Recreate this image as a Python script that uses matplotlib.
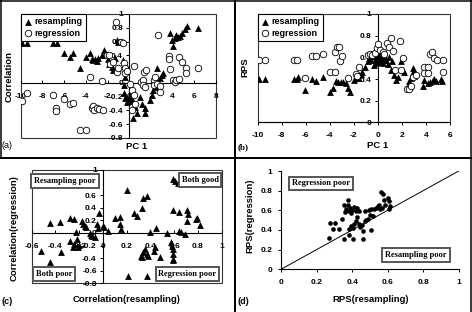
import matplotlib
matplotlib.use("Agg")
import matplotlib.pyplot as plt
from matplotlib.patches import Rectangle
from matplotlib.lines import Line2D
from matplotlib.ticker import FuncFormatter, MultipleLocator

plt.rcParams['font.family'] = ['Liberation Sans', 'DejaVu Sans']
plt.rcParams['font.weight'] = 'bold'

# ---- panel (a): correlation vs PC 1
res_a_pc = [-9.9, -9.45, -7.05, -6.7, -6.05, -5.5, -5.2, -4.55, -3.95, -3.65, -3.45, -3.3,
            -3.15, -3.0, -2.85, -2.55, -2.35, -2.0, -1.85, -1.6, -1.5, -1.3, -1.15, -1.0,
            -0.55, -0.4, -0.4, -0.5, -0.45, -0.39, -0.3, -0.2, -0.08, 0.07, 0.15, 0.38,
            0.53, 0.69, 0.38, 1.0, 1.15, 1.46, 1.46, 1.92, 2.07, 2.22, 2.38, 2.53, 2.68,
            2.84, 2.99, 2.6, 3.1, 3.75, 3.9, 4.05, 4.2, 4.35, 4.5, 4.7, 4.85, 5.15, 5.3, 6.3]
res_a_corr = [0.58, 0.58, 0.58, 0.58, 0.44, 0.37, 0.43, 0.21, 0.37, 0.44, 0.35, 0.33,
              0.34, 0.32, 0.36, 0.40, 0.48, 0.34, 0.28, 0.23, 0.19, 0.36, 0.62, 0.60,
              0.33, 0.28, 0.09, -0.03, -0.15, -0.22, -0.2, -0.28, -0.25, -0.27, -0.22, -0.27,
              -0.35, -0.44, -0.51, -0.2, -0.30, -0.37, -0.44, -0.25, -0.18, -0.10, -0.06, -0.03,
              0.02, 0.07, 0.11, 0.21, 0.14, 0.72, 0.62, 0.53, 0.65, 0.70, 0.66, 0.68, 0.72,
              0.78, 0.82, 0.79]
reg_a_pc = [-9.9, -9.45, -7.05, -6.75, -6.75, -6.05, -5.5, -5.2, -4.55, -4.0, -3.65, -3.45,
            -3.3, -3.2, -3.0, -2.8, -2.4, -2.55, -2.05, -1.85, -1.75, -1.45, -1.25, -1.15,
            -1.0, -0.8, -0.6, -0.5, -0.4, -0.35, -0.2, 0.45, 0.25, 0.4, 0.25, 0.3, 0.55,
            0.07, 1.05, 1.25, 1.35, 1.55, 1.25, 1.45, 2.25, 2.3, 2.55, 2.8, 2.7, 2.4, 2.8,
            3.7, 3.7, 3.75, 4.0, 4.2, 4.35, 4.55, 4.6, 4.85, 5.25, 5.25, 6.3]
reg_a_corr = [-0.27, -0.15, -0.18, -0.37, -0.41, -0.24, -0.30, -0.29, -0.69, -0.68, 0.08, -0.36,
              -0.34, -0.39, -0.37, -0.38, -0.39, 0.03, 0.40, 0.40, 0.28, 0.31, 0.88, 0.16,
              0.21, 0.60, 0.58, 0.29, 0.21, 0.14, 0.17, 0.24, -0.10, -0.18, -0.35, -0.40, -0.30,
              -0.01, 0.02, 0.04, 0.16, 0.19, -0.03, -0.06, 0.04, -0.03, -0.01, -0.05, 0.69, 0.09,
              -0.13, 0.39, 0.34, 0.20, 0.04, 0.02, 0.04, 0.05, 0.38, 0.31, 0.21, 0.14, 0.22]

# ---- panel (b): RPS vs PC 1
res_b_pc = [-9.9, -9.4, -7.0, -6.75, -6.65, -6.05, -5.5, -5.15, -4.55, -3.95, -3.7, -3.5,
            -3.3, -3.1, -2.9, -2.65, -2.5, -2.35, -1.95, -1.8, -1.65, -1.55, -1.4, -1.3,
            -1.1, -0.85, -0.7, -0.55, -0.4, -0.3, -0.25, -0.15, -0.1, 0.0, 0.1, 0.15, 0.2,
            0.3, 0.4, 0.45, 0.55, 0.6, 0.7, 0.8, 0.95, 1.2, 1.05, 1.3, 1.5, 1.7, 1.9, 2.1,
            2.2, 2.5, 2.6, 2.75, 2.9, 2.95, 3.0, 3.1, 3.75, 3.85, 4.15, 4.35, 4.55, 4.7,
            4.85, 5.25, 5.3]
res_b_rps = [0.40, 0.40, 0.40, 0.40, 0.42, 0.30, 0.40, 0.38, 0.42, 0.28, 0.32, 0.38,
             0.375, 0.375, 0.37, 0.36, 0.32, 0.28, 0.39, 0.41, 0.41, 0.44, 0.45, 0.47,
             0.51, 0.57, 0.59, 0.58, 0.61, 0.53, 0.58, 0.55, 0.60, 0.59, 0.62, 0.57, 0.60,
             0.56, 0.59, 0.55, 0.58, 0.60, 0.58, 0.54, 0.60, 0.57, 0.48, 0.44, 0.39, 0.42,
             0.57, 0.48, 0.47, 0.34, 0.38, 0.41, 0.50, 0.47, 0.43, 0.46, 0.34, 0.39, 0.36,
             0.375, 0.39, 0.40, 0.385, 0.40, 0.38]
reg_b_pc = [-9.9, -9.4, -7.0, -6.7, -6.05, -5.5, -5.15, -4.55, -3.95, -3.6, -3.6, -3.4,
            -3.2, -3.15, -2.95, -2.5, -1.85, -1.7, -1.55, -0.85, -0.65, -0.45, -0.2, -0.1,
            0.0, 0.2, 0.4, 0.55, 0.75, 0.9, 1.1, 1.25, 1.85, 1.45, 1.9, 2.05, 2.4, 2.6,
            2.75, 2.9, 3.15, 3.8, 4.15, 3.8, 4.15, 4.3, 4.5, 4.65, 4.95, 5.4, 5.4]
reg_b_rps = [0.58, 0.58, 0.58, 0.58, 0.41, 0.61, 0.61, 0.63, 0.47, 0.47, 0.65, 0.70,
             0.70, 0.57, 0.61, 0.41, 0.45, 0.43, 0.51, 0.62, 0.63, 0.62, 0.64, 0.69,
             0.72, 0.67, 0.65, 0.63, 0.73, 0.70, 0.78, 0.66, 0.75, 0.48, 0.48, 0.59, 0.31, 0.31,
             0.34, 0.42, 0.44, 0.51, 0.51, 0.46, 0.46, 0.63, 0.65, 0.59, 0.58, 0.58, 0.47]

# ---- panel (c): correlation(regression) vs correlation(resampling)
corr_res = [-0.52, -0.45, -0.45, -0.36, -0.35, -0.28, -0.24, -0.28, -0.24, -0.23, -0.22,
            -0.21, -0.20, -0.25, -0.18, -0.17, -0.15, -0.14, -0.11, -0.10, -0.09, -0.07,
            -0.05, -0.04, -0.03, 0.0, 0.01, 0.04, 0.10, 0.14, 0.14, 0.15, 0.20, 0.21, 0.26,
            0.29, 0.33, 0.34, 0.37, 0.32, 0.33, 0.34, 0.35, 0.37, 0.38, 0.37, 0.40, 0.43,
            0.44, 0.45, 0.48, 0.54, 0.57, 0.58, 0.59, 0.59, 0.59, 0.59, 0.59, 0.59, 0.61,
            0.63, 0.64, 0.64, 0.66, 0.69, 0.71, 0.71, 0.72, 0.78, 0.79, 0.82]
corr_reg = [-0.28, -0.46, 0.16, 0.17, -0.31, 0.23, 0.22, -0.13, -0.18, 0.02, -0.10,
            -0.23, -0.19, -0.22, 0.19, 0.15, 0.11, 0.10, 0.0, -0.04, -0.05, -0.07,
            0.14, 0.08, 0.31, 0.11, 0.10, 0.03, 0.24, 0.25, 0.14, 0.07, 0.68, -0.69, 0.31,
            0.27, 0.39, 0.55, 0.58, -0.37, -0.39, -0.31, -0.26, -0.34, -0.37, -0.68, 0.02, -0.29,
            -0.23, 0.08, -0.39, 0.0, -0.14, -0.20, -0.25, -0.34, -0.41, -0.43, 0.37, 0.86, 0.83,
            0.79, 0.33, 0.03, 0.01, -0.02, 0.19, 0.36, 0.30, 0.22, 0.23, 0.12]
# the 0.8 label of (c) sits under the "Resampling poor" box in the original
c_yticks = [-0.8, -0.6, -0.4, -0.2, 0, 0.2, 0.4, 0.6, 1]

# ---- panel (d): RPS(regression) vs RPS(resampling)
rps_res = [0.272, 0.278, 0.306, 0.295, 0.328, 0.343, 0.356, 0.356, 0.366, 0.375, 0.375,
           0.385, 0.39, 0.40, 0.41, 0.42, 0.43, 0.385, 0.394, 0.403, 0.38, 0.403, 0.41,
           0.42, 0.426, 0.437, 0.445, 0.456, 0.46, 0.463, 0.47, 0.478, 0.488, 0.475, 0.493,
           0.506, 0.506, 0.516, 0.525, 0.535, 0.544, 0.553, 0.557, 0.568, 0.563, 0.572,
           0.582, 0.587, 0.60, 0.606, 0.61, 0.614, 0.36, 0.395, 0.44, 0.50]
rps_reg = [0.322, 0.475, 0.475, 0.414, 0.414, 0.508, 0.305, 0.651, 0.61, 0.705, 0.651,
           0.59, 0.62, 0.60, 0.63, 0.59, 0.62, 0.41, 0.44, 0.42, 0.35, 0.305, 0.46,
           0.49, 0.53, 0.46, 0.43, 0.45, 0.39, 0.305, 0.49, 0.50, 0.51, 0.59, 0.60,
           0.61, 0.40, 0.54, 0.617, 0.627, 0.64, 0.65, 0.61, 0.627, 0.786, 0.763,
           0.71, 0.65, 0.73, 0.69, 0.61, 0.644, 0.58, 0.57, 0.59, 0.55]

W, H = 472, 312


def fx(px):
    return px / W


def fy(py):
    return 1 - py / H


def num(v, pos):
    v = round(v, 2) + 0.0
    return '%g' % v


def tri(ax, x, y, label=None):
    ax.scatter(x, y, marker='^', s=24, c='black', linewidths=0, label=label, zorder=3)


def circ(ax, x, y, label=None):
    ax.scatter(x, y, marker='o', s=22, facecolors='white', edgecolors='black',
               linewidths=0.6, label=label, zorder=3)


def centered(ax, xlim, ylim, xstep, ystep, box=True, xdir='in'):
    ax.set_xlim(*xlim)
    ax.set_ylim(*ylim)
    ax.spines['left'].set_position(('data', 0))
    ax.spines['bottom'].set_position(('data', 0))
    for s in ['top', 'right']:
        ax.spines[s].set_visible(False)
    for s in ['left', 'bottom']:
        ax.spines[s].set_linewidth(0.8)
    ax.xaxis.set_major_locator(MultipleLocator(xstep))
    ax.yaxis.set_major_locator(MultipleLocator(ystep))
    ax.xaxis.set_major_formatter(FuncFormatter(num))
    ax.yaxis.set_major_formatter(FuncFormatter(num))
    ax.tick_params(labelsize=6, length=2, width=0.7)
    ax.tick_params(axis='x', direction=xdir, pad=7 if xdir == 'in' else 5)
    ax.tick_params(axis='y', direction='out', pad=2.5)
    if box:
        ax.add_patch(Rectangle((0, 0), 1, 1, transform=ax.transAxes, fill=False,
                               lw=0.8, ec='#333333', clip_on=False, zorder=1))


def legend(ax):
    leg = ax.legend(loc='upper left', bbox_to_anchor=(0, 1), borderaxespad=0,
                    fontsize=6.5, frameon=True, fancybox=False, edgecolor='black',
                    framealpha=1, handletextpad=0.2, labelspacing=0.3,
                    borderpad=0.35, handlelength=1.0)
    leg.get_frame().set_linewidth(0.8)


def note(ax, x, y, txt):
    ax.text(x, y, txt, transform=ax.transAxes, ha='center', va='center',
            fontsize=6, family=['Liberation Serif', 'DejaVu Serif'], weight='bold',
            bbox=dict(boxstyle='square,pad=0.35', fc='white', ec='#555555', lw=1.4),
            zorder=5)


fig = plt.figure(figsize=(W / 100, H / 100), dpi=100)

# (a)
ax = fig.add_axes([fx(20.7), fy(138), fx(216 - 20.7), 124 / H])
centered(ax, (-10, 8), (-0.8, 1), 2, 0.2)
tri(ax, res_a_pc, res_a_corr, 'resampling')
circ(ax, reg_a_pc, reg_a_corr, 'regression')
legend(ax)
fig.text(fx(137), fy(146.7), 'PC 1', ha='center', va='center', fontsize=6.8)
fig.text(fx(9), fy(77), 'Correlation', ha='center', va='center', rotation=90, fontsize=6.8)
fig.text(fx(2), fy(146), '(a)', ha='left', va='center', fontsize=6.5, weight='normal')

# (b)
ax = fig.add_axes([fx(257.7), fy(122.5), fx(450 - 257.7), 108.5 / H])
centered(ax, (-10, 6), (0, 1), 2, 0.2, xdir='out')
tri(ax, res_b_pc, res_b_rps, 'resampling')
circ(ax, reg_b_pc, reg_b_rps, 'regression')
legend(ax)
fig.text(fx(378), fy(146), 'PC 1', ha='center', va='center', fontsize=6.8)
fig.text(fx(245), fy(67), 'RPS', ha='center', va='center', rotation=90, fontsize=6.8)
fig.text(fx(238), fy(147), '(b)', ha='left', va='center', fontsize=6.5,
         family=['Liberation Serif', 'DejaVu Serif'])

# (c)
ax = fig.add_axes([fx(31.7), fy(283.3), fx(190), 113.3 / H])
centered(ax, (-0.6, 1), (-0.8, 1), 0.2, 0.2)
ax.set_yticks(c_yticks)
tri(ax, corr_res, corr_reg)
note(ax, 0.175, 0.903, 'Resampling poor')
note(ax, 0.886, 0.91, 'Both good')
note(ax, 0.119, 0.079, 'Both poor')
note(ax, 0.82, 0.079, 'Regression poor')
fig.text(fx(126.7), fy(300), 'Correlation(resampling)', ha='center', va='center', fontsize=6.8)
fig.text(fx(14), fy(227.7), 'Correlation(regression)', ha='center', va='center',
         rotation=90, fontsize=6.8)
fig.text(fx(2), fy(302), '(c)', ha='left', va='center', fontsize=6.5)

# (d)
ax = fig.add_axes([fx(281), fy(269.3), fx(177.7), 98.3 / H])
centered(ax, (0, 1), (0, 1), 0.2, 0.2, box=False, xdir='out')
ax.tick_params(axis='y', pad=4)
ax.plot([0, 1], [0, 1], color='black', lw=0.7, zorder=2)
ax.scatter(rps_res, rps_reg, marker='o', s=11, c='black', linewidths=0, zorder=3)
note(ax, 0.225, 0.873, 'Regression poor')
note(ax, 0.76, 0.143, 'Resampling poor')
fig.text(fx(371), fy(300), 'RPS(resampling)', ha='center', va='center', fontsize=6.8)
fig.text(fx(250), fy(216), 'RPS(regression)', ha='center', va='center', rotation=90,
         fontsize=6.8)
fig.text(fx(238), fy(302), '(d)', ha='left', va='center', fontsize=6.5)

# panel borders
for xs, ys, lw in [([0, W], [157.5, 157.5], 2.0), ([234.5, 234.5], [0, H], 2.0),
                   ([0, W], [0.7, 0.7], 1.5), ([470.5, 470.5], [0, H], 1.5),
                   ([0.7, 0.7], [0, 157.5], 1.5)]:
    fig.add_artist(Line2D([fx(v) for v in xs], [fy(v) for v in ys],
                          transform=fig.transFigure, color='black', lw=lw * 0.72))

fig.savefig('out.png', dpi=100)
